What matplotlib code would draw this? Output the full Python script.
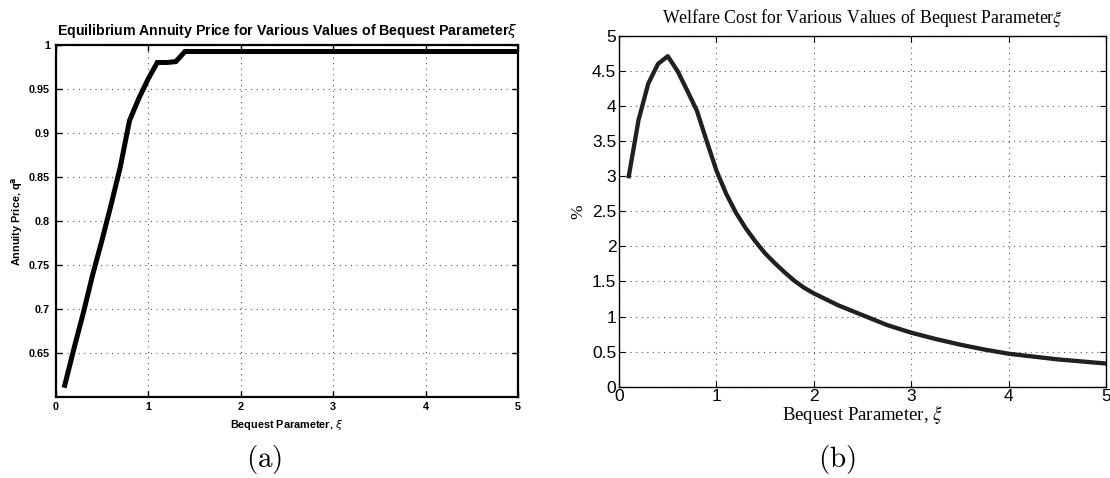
import numpy as np
import matplotlib
matplotlib.use("Agg")
import matplotlib.pyplot as plt

# Annuity price vs bequest parameter
xi_price = [0.1, 0.2, 0.3, 0.4, 0.5, 0.6, 0.7, 0.8, 0.9, 1.0, 1.1, 1.2, 1.3, 1.4,
            1.5, 2.0, 2.5, 3.0, 3.5, 4.0, 4.5, 5.0]
annuity_price = [0.613, 0.655, 0.695, 0.738, 0.777, 0.818, 0.861, 0.914, 0.939,
                 0.961, 0.980, 0.980, 0.981, 0.9925, 0.9925, 0.9925, 0.9925,
                 0.9925, 0.9925, 0.9925, 0.9925, 0.9925]

# Welfare cost (%) vs bequest parameter
xi_welfare = [0.1, 0.2, 0.3, 0.4, 0.5, 0.6, 0.7, 0.8, 0.9, 1.0, 1.1, 1.2, 1.3,
              1.4, 1.5, 1.6, 1.7, 1.8, 1.9, 2.0, 2.25, 2.5, 2.75, 3.0, 3.25,
              3.5, 3.75, 4.0, 4.25, 4.5, 4.75, 5.0]
welfare_cost = [3.0, 3.8, 4.32, 4.6, 4.71, 4.5, 4.22, 3.93, 3.5, 3.08, 2.75,
                2.48, 2.26, 2.07, 1.90, 1.76, 1.63, 1.51, 1.41, 1.33, 1.16,
                1.02, 0.88, 0.77, 0.68, 0.60, 0.53, 0.47, 0.43, 0.39, 0.36, 0.33]

price_yticks = [0.65, 0.7, 0.75, 0.8, 0.85, 0.9, 0.95, 1.0]
price_yticklabels = ["0.65", "0.7", "0.75", "0.8", "0.85", "0.9", "0.95", "1"]
welfare_yticks = [0, 0.5, 1, 1.5, 2, 2.5, 3, 3.5, 4, 4.5, 5]
welfare_yticklabels = ["0", "0.5", "1", "1.5", "2", "2.5", "3", "3.5", "4", "4.5", "5"]
x_ticks = [0, 1, 2, 3, 4, 5]

fig = plt.figure(figsize=(11.1, 4.78), dpi=100)

grid_kw = dict(color="#555555", linestyle=(0, (1, 4)), linewidth=0.8)

# --- (a) annuity price ---
ax1 = fig.add_axes([0.050, 0.170, 0.4167, 0.736])
ax1.plot(xi_price, annuity_price, color="black", lw=3.6, solid_joinstyle="miter")
ax1.set_xlim(0, 5)
ax1.set_ylim(0.6, 1.0)
ax1.set_xticks(x_ticks)
ax1.set_xticklabels([str(t) for t in x_ticks])
ax1.set_yticks(price_yticks)
ax1.set_yticklabels(price_yticklabels)
ax1.grid(True, **grid_kw)
ax1.tick_params(direction="in", top=True, right=True, length=4, width=1.0,
                labelsize=7.8, pad=4)
for lab in ax1.get_xticklabels() + ax1.get_yticklabels():
    lab.set_fontweight("bold")
    lab.set_family("Liberation Sans")
for s in ax1.spines.values():
    s.set_linewidth(1.6)
ax1.set_title("Equilibrium Annuity Price for Various Values of Bequest Parameter$\\xi$",
              fontsize=10.2, fontweight="bold", family="Liberation Sans", pad=7.5)
ax1.set_xlabel("Bequest Parameter, $\\xi$", fontsize=7.8, fontweight="bold",
               family="Liberation Sans", labelpad=4)
ax1.set_ylabel("Annuity Price, q$^{\\mathbf{a}}$", fontsize=7.8, fontweight="bold",
               family="Liberation Sans", labelpad=3)

# --- (b) welfare cost ---
ax2 = fig.add_axes([0.5577, 0.191, 0.4387, 0.734])
ax2.plot(xi_welfare, welfare_cost, color="#231f20", lw=3.1)
ax2.set_xlim(0, 5)
ax2.set_ylim(0, 5)
ax2.set_xticks(x_ticks)
ax2.set_xticklabels([str(t) for t in x_ticks])
ax2.set_yticks(welfare_yticks)
ax2.set_yticklabels(welfare_yticklabels)
ax2.grid(True, **grid_kw)
ax2.tick_params(direction="in", top=True, right=True, length=4, width=0.8,
                labelsize=12.5, pad=2)
for lab in ax2.get_xticklabels() + ax2.get_yticklabels():
    lab.set_family("Liberation Sans")
for s in ax2.spines.values():
    s.set_linewidth(1.0)
ax2.set_title("Welfare Cost for Various Values of Bequest Parameter$\\xi$",
              fontsize=12.8, family="Liberation Serif", pad=9,
              math_fontfamily="stix")
ax2.set_xlabel("Bequest Parameter, $\\xi$", fontsize=13.5, family="Liberation Serif",
               labelpad=-1, math_fontfamily="stix")
ax2.set_ylabel("%", fontsize=12.5, family="Liberation Serif", labelpad=4)

fig.text(0.238, 0.022, "$\\mathrm{(a)}$", fontsize=21, ha="center", va="baseline",
         math_fontfamily="cm")
fig.text(0.754, 0.022, "$\\mathrm{(b)}$", fontsize=21, ha="center", va="baseline",
         math_fontfamily="cm")

fig.savefig("out.png", dpi=100)
